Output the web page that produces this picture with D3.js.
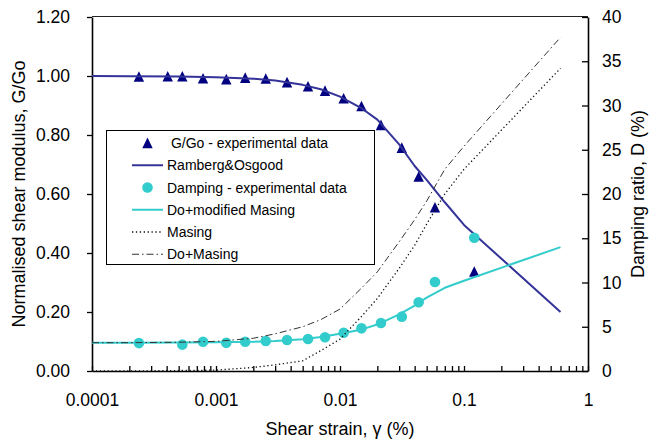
<!DOCTYPE html>
<html><head><meta charset="utf-8">
<script src="https://cdn.jsdelivr.net/npm/d3@7"></script>
<style>
html,body{margin:0;padding:0;background:#fff;}
svg{display:block;font-family:"Liberation Sans",Arial,sans-serif;}
</style></head><body>
<svg id="chart" width="649" height="441"></svg>
<script>
// ---- data ----
const strainExp = [0.000239, 0.000408, 0.000535, 0.000786, 0.00121, 0.00172, 0.00252, 0.00374, 0.00552, 0.00757, 0.0107, 0.0149, 0.0214, 0.0315, 0.0431, 0.0583, 0.121];
const gGoExp    = [0.998, 0.999, 0.999, 0.992, 0.989, 0.994, 0.991, 0.979, 0.965, 0.950, 0.924, 0.898, 0.834, 0.757, 0.659, 0.555, 0.337];

const strainDamp = [0.000239, 0.000535, 0.000786, 0.00121, 0.00172, 0.00252, 0.00374, 0.00552, 0.00757, 0.0107, 0.0149, 0.0214, 0.0315, 0.0431, 0.0583, 0.121];
const dampExp    = [3.15, 2.98, 3.31, 3.18, 3.31, 3.39, 3.50, 3.62, 3.81, 4.33, 4.82, 5.42, 6.14, 7.76, 10.06, 15.06];

const strainModel   = [0.0001, 0.0002, 0.0005, 0.001, 0.002, 0.003, 0.005, 0.007, 0.01, 0.015, 0.02, 0.03, 0.04, 0.05, 0.07, 0.1, 0.6];
const rambergOsgood = [1.000, 0.999, 0.998, 0.996, 0.991, 0.985, 0.970, 0.955, 0.930, 0.890, 0.852, 0.768, 0.695, 0.648, 0.572, 0.495, 0.200];
const doModMasing   = [3.2, 3.2, 3.22, 3.25, 3.3, 3.4, 3.6, 3.85, 4.2, 4.7, 5.25, 6.4, 7.4, 8.3, 9.4, 10.2, 14.0];
const masing        = [0.0, 0.0, 0.05, 0.1, 0.4, 0.7, 1.15, 2.3, 3.6, 6.2, 8.2, 11.6, 14.2, 16.6, 20.0, 22.8, 34.2];
const doMasing      = [3.2, 3.2, 3.25, 3.35, 3.7, 4.2, 5.0, 5.8, 7.0, 9.4, 11.2, 14.6, 17.1, 19.2, 22.8, 25.4, 37.7];

const xTickValues = [0.0001, 0.001, 0.01, 0.1, 1];
const xTickLabels = ["0.0001", "0.001", "0.01", "0.1", "1"];
const gTicks = [0, 0.2, 0.4, 0.6, 0.8, 1.0, 1.2];
const dTicks = [0, 5, 10, 15, 20, 25, 30, 35, 40];

const legendLabels = [" G/Go - experimental data", "Ramberg&Osgood", "Damping - experimental data", "Do+modified Masing", "Masing", "Do+Masing"];

// ---- styles ----
const NAVY = "#000080", RO = "#333399", CYAN = "#33CCCC";

const svg = d3.select("#chart");
const x  = d3.scaleLog().domain([0.0001, 1]).range([92, 588]);
const yL = d3.scaleLinear().domain([0, 1.2]).range([371, 17]);
const yR = d3.scaleLinear().domain([0, 40]).range([371, 17]);

// top border
svg.append("line").attr("x1", 92).attr("x2", 588).attr("y1", 16.5).attr("y2", 16.5)
  .attr("stroke", "#222").attr("stroke-width", 1);

// axes
const fs = "17.5px";
const gL = svg.append("g").attr("transform", "translate(92,0)")
  .call(d3.axisLeft(yL).tickValues(gTicks).tickFormat(d3.format(".2f")).tickSize(5).tickSizeOuter(0).tickPadding(17));
const gR = svg.append("g").attr("transform", "translate(588,0)")
  .call(d3.axisRight(yR).tickValues(dTicks).tickSizeInner(-6).tickSizeOuter(0).tickPadding(14));
const gMinor = svg.append("g").attr("transform", "translate(0,371)")
  .call(d3.axisBottom(x).tickValues(x.ticks().filter(v => !xTickValues.some(t => Math.abs(v - t) / t < 1e-9)))
    .tickFormat("").tickSizeInner(-5).tickSizeOuter(0));
const gB = svg.append("g").attr("transform", "translate(0,371)")
  .call(d3.axisBottom(x).tickValues(xTickValues).tickFormat((d, i) => xTickLabels[i])
    .tickSizeInner(-5).tickSizeOuter(0).tickPadding(23));
gMinor.select(".domain").remove();
[gL, gR, gB, gMinor].forEach(g => {
  g.selectAll("text").attr("font-size", fs).attr("font-family", "Liberation Sans, Arial, sans-serif").attr("fill", "#000");
  g.selectAll("line").attr("stroke", "#000").attr("stroke-width", 1.3);
  g.select(".domain").attr("stroke", "#000").attr("stroke-width", 1.6);
});

// axis titles
svg.append("text").attr("x", 340).attr("y", 435).attr("text-anchor", "middle")
  .attr("font-size", "18px").text("Shear strain, \u03B3 (%)");
svg.append("text").attr("transform", "translate(25,194) rotate(-90)").attr("text-anchor", "middle")
  .attr("font-size", "18px").text("Normalised shear modulus, G/Go");
svg.append("text").attr("transform", "translate(644,194) rotate(-90)").attr("text-anchor", "middle")
  .attr("font-size", "18px").text("Damping ratio, D (%)");

// model lines
const modelIdx = d3.range(strainModel.length);
function drawLine(vals, yS, color, width, dash) {
  const p = svg.append("path")
    .attr("d", d3.line().x(i => x(strainModel[i])).y(i => yS(vals[i]))(modelIdx))
    .attr("fill", "none").attr("stroke", color).attr("stroke-width", width)
    .attr("stroke-linejoin", "round");
  if (dash) p.attr("stroke-dasharray", dash);
  return p;
}

const triPath = "M0,-5.4L5.2,5.2L-5.2,5.2Z";

// series 1: G/Go triangles
svg.append("g").selectAll("path").data(strainExp).join("path")
  .attr("transform", (d, i) => `translate(${x(d)},${yL(gGoExp[i])})`)
  .attr("d", triPath).attr("fill", NAVY);
// series 2: Ramberg & Osgood
drawLine(rambergOsgood, yL, RO, 2);
// series 3: damping circles
svg.append("g").selectAll("circle").data(strainDamp).join("circle")
  .attr("cx", d => x(d)).attr("cy", (d, i) => yR(dampExp[i])).attr("r", 5.3).attr("fill", CYAN);
// series 4-6
drawLine(doModMasing, yR, CYAN, 2);
drawLine(masing, yR, "#111", 1.3, "1.3,2.6");
drawLine(doMasing, yR, "#333", 1, "7,3,1.5,3");

// legend
const leg = svg.append("g");
leg.append("rect").attr("x", 106.5).attr("y", 130.5).attr("width", 268).attr("height", 134)
  .attr("fill", "#fff").attr("stroke", "#000").attr("stroke-width", 1);
const rowY = i => 143 + i * 22.25;
const lx1 = 132, lx2 = 163, mx = 147.5, tx = 167;
leg.append("path").attr("transform", `translate(${mx},${rowY(0)})`).attr("d", triPath).attr("fill", NAVY);
leg.append("line").attr("x1", lx1).attr("x2", lx2).attr("y1", rowY(1)).attr("y2", rowY(1)).attr("stroke", RO).attr("stroke-width", 2);
leg.append("circle").attr("cx", mx).attr("cy", rowY(2)).attr("r", 5.3).attr("fill", CYAN);
leg.append("line").attr("x1", lx1).attr("x2", lx2).attr("y1", rowY(3)).attr("y2", rowY(3)).attr("stroke", CYAN).attr("stroke-width", 2);
leg.append("line").attr("x1", lx1).attr("x2", lx2).attr("y1", rowY(4)).attr("y2", rowY(4)).attr("stroke", "#111").attr("stroke-width", 1.3).attr("stroke-dasharray", "1.3,2.6");
leg.append("line").attr("x1", lx1).attr("x2", lx2).attr("y1", rowY(5)).attr("y2", rowY(5)).attr("stroke", "#333").attr("stroke-width", 1).attr("stroke-dasharray", "7,3,1.5,3");
leg.selectAll("text.lbl").data(legendLabels).join("text").attr("class", "lbl")
  .attr("x", tx).attr("y", (d, i) => rowY(i) + 5).attr("font-size", "14px")
  .style("white-space", "pre").text(d => d);
</script>
</body></html>
